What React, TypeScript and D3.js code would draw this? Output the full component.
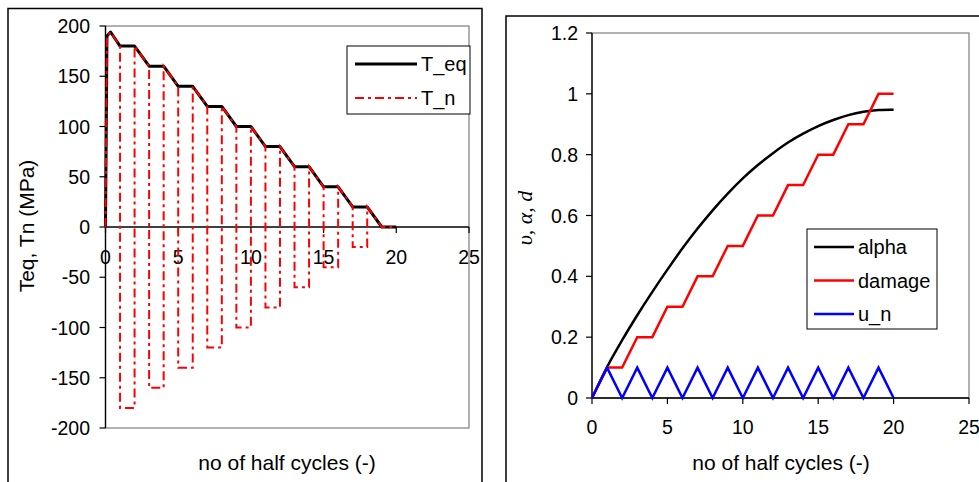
import React from 'react';
import * as d3 from 'd3';

// half-cycle axis shared by both panels
const halfCycleTicks = [0, 5, 10, 15, 20, 25];
const tractionTicks = [-200, -150, -100, -50, 0, 50, 100, 150, 200];
const ratioTicks = [0, 0.2, 0.4, 0.6, 0.8, 1, 1.2];

// left panel: equivalent traction and normal traction (MPa)
const tEq: [number, number][] = [
  [0, 0], [0.1, 190], [0.35, 194], [1, 180], [2, 180], [3, 160], [4, 160],
  [5, 140], [6, 140], [7, 120], [8, 120], [9, 100], [10, 100], [11, 80],
  [12, 80], [13, 60], [14, 60], [15, 40], [16, 40], [17, 20], [18, 20],
  [19, 0], [20, 0],
];
const tN: [number, number][] = [
  [0, 0], [0.1, 190], [0.35, 194], [1, 180], [1, -180], [2, -180], [2, 180],
  [3, 160], [3, -160], [4, -160], [4, 160], [5, 140], [5, -140], [6, -140],
  [6, 140], [7, 120], [7, -120], [8, -120], [8, 120], [9, 100], [9, -100],
  [10, -100], [10, 100], [11, 80], [11, -80], [12, -80], [12, 80], [13, 60],
  [13, -60], [14, -60], [14, 60], [15, 40], [15, -40], [16, -40], [16, 40],
  [17, 20], [17, -20], [18, -20], [18, 20], [19, 0], [20, 0],
];

// right panel
const alpha: [number, number][] = [
  [0, 0], [1, 0.102], [2, 0.19], [3, 0.272], [4, 0.349], [5, 0.422],
  [6, 0.492], [7, 0.557], [8, 0.617], [9, 0.672], [10, 0.722], [11, 0.766],
  [12, 0.805], [13, 0.84], [14, 0.869], [15, 0.894], [16, 0.914],
  [17, 0.93], [18, 0.941], [19, 0.947], [20, 0.948],
];
const damage: [number, number][] = [
  [0, 0], [1, 0.1], [2, 0.1], [3, 0.2], [4, 0.2], [5, 0.3], [6, 0.3],
  [7, 0.4], [8, 0.4], [9, 0.5], [10, 0.5], [11, 0.6], [12, 0.6], [13, 0.7],
  [14, 0.7], [15, 0.8], [16, 0.8], [17, 0.9], [18, 0.9], [19, 1], [20, 1],
];
const uN: [number, number][] = [
  [0, 0], [1, 0.1], [2, 0], [3, 0.1], [4, 0], [5, 0.1], [6, 0], [7, 0.1],
  [8, 0], [9, 0.1], [10, 0], [11, 0.1], [12, 0], [13, 0.1], [14, 0],
  [15, 0.1], [16, 0], [17, 0.1], [18, 0], [19, 0.1], [20, 0],
];

const leftLegend = [
  { name: 'T_eq', color: '#000', width: 3, dash: undefined as string | undefined },
  { name: 'T_n', color: '#ff0000', width: 2, dash: '9,4,3,4' },
];
const rightLegend = [
  { name: 'alpha', color: '#000' },
  { name: 'damage', color: '#ff0000' },
  { name: 'u_n', color: '#0000ff' },
];

const FONT = '"Liberation Sans", Arial, sans-serif';

const App: React.FC = () => {
  // left panel scales
  const xL = d3.scaleLinear().domain([0, 25]).range([105.5, 469]);
  const yL = d3.scaleLinear().domain([-200, 200]).range([428, 26]);
  // right panel scales
  const xR = d3.scaleLinear().domain([0, 25]).range([592, 969]);
  const yR = d3.scaleLinear().domain([0, 1.2]).range([398, 33]);

  const lineL = d3.line<[number, number]>().x(d => xL(d[0])).y(d => yL(d[1]));
  const lineR = d3.line<[number, number]>().x(d => xR(d[0])).y(d => yR(d[1]));
  const curveR = d3.line<[number, number]>().x(d => xR(d[0])).y(d => yR(d[1])).curve(d3.curveCatmullRom);

  return (
    <svg width={979} height={482} style={{ position: 'absolute', left: 0, top: 0, background: '#fff' }}
      fontFamily={FONT}>
      <rect x={0} y={0} width={979} height={482} fill="#fff" />
      {/* outer frames */}
      <rect x={8} y={8.5} width={474} height={490} fill="none" stroke="#000" strokeWidth={1.5} />
      <rect x={506} y={16} width={490} height={490} fill="none" stroke="#000" strokeWidth={1.5} />

      {/* ---------- left panel ---------- */}
      <rect x={xL(0)} y={yL(200)} width={xL(25) - xL(0)} height={yL(-200) - yL(200)}
        fill="none" stroke="#888" strokeWidth={1.3} />
      <line x1={xL(0)} x2={xL(0)} y1={yL(200)} y2={yL(-200)} stroke="#000" strokeWidth={1.3} />
      <line x1={xL(0)} x2={xL(25)} y1={yL(0)} y2={yL(0)} stroke="#000" strokeWidth={1.3} />
      {tractionTicks.map(t => (
        <g key={'yl' + t}>
          <line x1={xL(0) - 6} x2={xL(0)} y1={yL(t)} y2={yL(t)} stroke="#000" strokeWidth={1.2} />
          <text x={90} y={yL(t)} dy="0.36em" textAnchor="end" fontSize={19.5}>{t}</text>
        </g>
      ))}
      {halfCycleTicks.map(t => (
        <g key={'xl' + t}>
          <line x1={xL(t)} x2={xL(t)} y1={yL(0)} y2={yL(0) + 6} stroke="#000" strokeWidth={1.2} />
          <text x={xL(t)} y={264} textAnchor="middle" fontSize={19.5}>{t}</text>
        </g>
      ))}
      <path d={lineL(tEq) || ''} fill="none" stroke="#000" strokeWidth={3} strokeLinejoin="round" />
      <path d={lineL(tN) || ''} fill="none" stroke="#ff0000" strokeWidth={2} strokeDasharray="9,4,3,4" />
      <text transform="translate(34,226) rotate(-90)" textAnchor="middle" fontSize={21}>Teq, Tn (MPa)</text>
      <text x={287} y={470} textAnchor="middle" fontSize={21}>no of half cycles (-)</text>
      <rect x={347} y={46} width={123} height={68} fill="#fff" stroke="#000" strokeWidth={1} />
      {leftLegend.map((s, i) => (
        <g key={s.name} transform={`translate(0,${64 + i * 34})`}>
          <line x1={355} x2={417} y1={0} y2={0} stroke={s.color} strokeWidth={s.width}
            strokeDasharray={s.dash} />
          <text x={421} y={0} dy="0.36em" fontSize={20}>{s.name}</text>
        </g>
      ))}

      {/* ---------- right panel ---------- */}
      <rect x={xR(0)} y={yR(1.2)} width={xR(25) - xR(0)} height={yR(0) - yR(1.2)}
        fill="none" stroke="#888" strokeWidth={1.3} />
      <line x1={xR(0)} x2={xR(0)} y1={yR(1.2)} y2={yR(0)} stroke="#000" strokeWidth={1.3} />
      <line x1={xR(0)} x2={xR(25)} y1={yR(0)} y2={yR(0)} stroke="#000" strokeWidth={1.3} />
      {ratioTicks.map(t => (
        <g key={'yr' + t}>
          <line x1={xR(0) - 6} x2={xR(0)} y1={yR(t)} y2={yR(t)} stroke="#000" strokeWidth={1.2} />
          <text x={578} y={yR(t)} dy="0.36em" textAnchor="end" fontSize={19.5}>{t}</text>
        </g>
      ))}
      {halfCycleTicks.map(t => (
        <g key={'xr' + t}>
          <line x1={xR(t)} x2={xR(t)} y1={yR(0)} y2={yR(0) + 6} stroke="#000" strokeWidth={1.2} />
          <text x={xR(t)} y={434} textAnchor="middle" fontSize={19.5}>{t}</text>
        </g>
      ))}
      <path d={curveR(alpha) || ''} fill="none" stroke="#000" strokeWidth={2.5} />
      <path d={lineR(damage) || ''} fill="none" stroke="#ff0000" strokeWidth={2.5} />
      <path d={lineR(uN) || ''} fill="none" stroke="#0000ff" strokeWidth={2.5} />
      <text transform="translate(532,218) rotate(-90)" textAnchor="middle" fontSize={22}
        fontFamily='"Liberation Serif", "DejaVu Serif", serif' fontStyle="italic">υ, α, d</text>
      <text x={781} y={470} textAnchor="middle" fontSize={21}>no of half cycles (-)</text>
      <rect x={807} y={229} width={130} height={100} fill="#fff" stroke="#000" strokeWidth={1} />
      {rightLegend.map((s, i) => (
        <g key={s.name} transform={`translate(0,${247 + i * 33.5})`}>
          <line x1={814} x2={854} y1={0} y2={0} stroke={s.color} strokeWidth={2.5} />
          <text x={858} y={0} dy="0.36em" fontSize={20}>{s.name}</text>
        </g>
      ))}
    </svg>
  );
};

export default App;
